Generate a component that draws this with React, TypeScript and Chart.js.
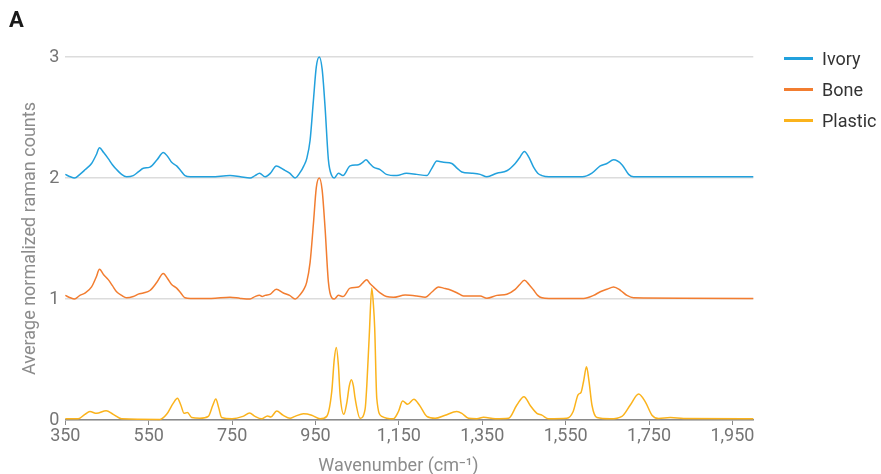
import React, { useEffect, useRef } from 'react';
import { Chart, registerables } from 'chart.js';

Chart.register(...registerables);

const SERIES_NAMES = ['Ivory', 'Bone', 'Plastic'];
const SERIES_COLORS = ['#22a1dd', '#f27d30', '#fbb31c'];
const X_TICKS = [350, 550, 750, 950, 1150, 1350, 1550, 1750, 1950];
const Y_TICKS = [0, 1, 2, 3];
const X_TITLE = 'Wavenumber (cm⁻¹)';
const Y_TITLE = 'Average normalized raman counts';
const PANEL_LABEL = 'A';

const IVORY: [number, number][] = [
  [350, 2.03], [362, 2.01], [372, 2.0], [385, 2.03], [398, 2.07], [413, 2.12], [424, 2.19], [432, 2.25],
  [442, 2.21], [453, 2.16], [463, 2.11], [473, 2.07], [485, 2.03], [497, 2.01], [513, 2.02], [525, 2.05],
  [537, 2.08], [553, 2.09], [570, 2.15], [585, 2.21], [595, 2.18], [605, 2.13], [617, 2.1], [627, 2.06],
  [637, 2.02], [650, 2.01], [700, 2.01], [745, 2.02], [770, 2.01], [793, 2.0], [805, 2.02], [816, 2.04],
  [829, 2.01], [842, 2.04], [856, 2.1], [873, 2.07], [888, 2.04], [901, 2.0], [914, 2.05], [922, 2.1],
  [929, 2.16], [937, 2.31], [945, 2.64], [952, 2.92], [959, 3.0], [966, 2.9], [973, 2.59], [981, 2.15],
  [989, 2.02], [995, 2.0], [1005, 2.04], [1016, 2.02], [1033, 2.1], [1053, 2.11], [1063, 2.13], [1071, 2.15],
  [1080, 2.12], [1089, 2.09], [1105, 2.07], [1120, 2.03], [1145, 2.02], [1168, 2.04], [1193, 2.03], [1217, 2.02],
  [1229, 2.08], [1241, 2.14], [1257, 2.13], [1277, 2.12], [1290, 2.08], [1301, 2.05], [1325, 2.04], [1345, 2.03],
  [1361, 2.01], [1385, 2.04], [1409, 2.06], [1429, 2.12], [1440, 2.17], [1451, 2.22], [1462, 2.17], [1473, 2.09],
  [1483, 2.04], [1493, 2.02], [1510, 2.01], [1590, 2.01], [1613, 2.04], [1633, 2.1], [1649, 2.12], [1665, 2.15],
  [1685, 2.11], [1701, 2.03], [1713, 2.01], [2000, 2.01],
];

const BONE: [number, number][] = [
  [350, 1.03], [362, 1.01], [372, 1.0], [385, 1.03], [398, 1.05], [413, 1.1], [424, 1.18], [432, 1.245],
  [442, 1.2], [453, 1.16], [463, 1.11], [473, 1.06], [485, 1.03], [497, 1.01], [513, 1.02], [525, 1.04],
  [537, 1.05], [553, 1.07], [570, 1.14], [585, 1.21], [595, 1.17], [605, 1.12], [617, 1.09], [627, 1.05],
  [637, 1.01], [650, 1.005], [700, 1.005], [745, 1.015], [770, 1.005], [793, 1.0], [805, 1.02], [816, 1.03],
  [822, 1.02], [829, 1.03], [842, 1.04], [856, 1.08], [873, 1.05], [888, 1.03], [901, 1.0], [914, 1.04],
  [922, 1.08], [929, 1.14], [937, 1.3], [945, 1.62], [952, 1.92], [959, 2.0], [966, 1.9], [973, 1.58],
  [981, 1.14], [989, 1.01], [995, 1.0], [1005, 1.03], [1016, 1.02], [1033, 1.09], [1053, 1.1], [1063, 1.13],
  [1073, 1.16], [1080, 1.13], [1089, 1.1], [1105, 1.05], [1120, 1.02], [1137, 1.014], [1165, 1.033], [1193, 1.025],
  [1213, 1.014], [1230, 1.06], [1245, 1.1], [1257, 1.09], [1269, 1.08], [1290, 1.05], [1305, 1.025], [1345, 1.025],
  [1361, 1.007], [1385, 1.03], [1409, 1.04], [1429, 1.08], [1440, 1.12], [1451, 1.155], [1462, 1.12], [1473, 1.074],
  [1483, 1.03], [1493, 1.01], [1510, 1.005], [1593, 1.005], [1617, 1.03], [1633, 1.06], [1649, 1.08], [1665, 1.1],
  [1682, 1.07], [1697, 1.03], [1713, 1.01], [2000, 1.005],
];

const PLASTIC: [number, number][] = [
  [350, 0.01], [381, 0.01], [397, 0.047], [409, 0.07], [425, 0.055], [448, 0.077], [465, 0.047], [485, 0.01],
  [577, 0.005], [593, 0.047], [609, 0.14], [619, 0.18], [627, 0.124], [635, 0.055], [643, 0.063], [653, 0.02],
  [673, 0.014], [693, 0.03], [704, 0.124], [711, 0.174], [718, 0.1], [725, 0.02], [750, 0.01], [776, 0.03],
  [792, 0.058], [805, 0.03], [821, 0.01], [835, 0.033], [843, 0.025], [857, 0.074], [872, 0.04], [889, 0.014],
  [901, 0.03], [921, 0.052], [941, 0.04], [961, 0.01], [977, 0.03], [989, 0.234], [995, 0.5], [1000, 0.6],
  [1005, 0.45], [1009, 0.21], [1018, 0.047], [1025, 0.14], [1031, 0.28], [1036, 0.333], [1041, 0.28], [1045, 0.18],
  [1057, 0.014], [1069, 0.09], [1073, 0.28], [1079, 0.7], [1085, 1.09], [1089, 0.95], [1092, 0.76], [1097, 0.18],
  [1109, 0.03], [1137, 0.01], [1149, 0.07], [1159, 0.157], [1171, 0.13], [1186, 0.171], [1199, 0.124], [1217, 0.03],
  [1237, 0.014], [1261, 0.04], [1289, 0.07], [1301, 0.055], [1317, 0.014], [1337, 0.01], [1353, 0.022], [1381, 0.01],
  [1413, 0.014], [1433, 0.124], [1450, 0.193], [1465, 0.12], [1481, 0.055], [1493, 0.04], [1509, 0.01], [1553, 0.014],
  [1568, 0.07], [1580, 0.21], [1587, 0.229], [1593, 0.32], [1600, 0.44], [1606, 0.32], [1613, 0.124], [1625, 0.02],
  [1657, 0.01], [1685, 0.03], [1705, 0.124], [1725, 0.215], [1741, 0.15], [1757, 0.04], [1773, 0.012], [1801, 0.02],
  [1833, 0.012], [2000, 0.01],
];

const SERIES = [IVORY, BONE, PLASTIC];

const FONT = 'Roboto';
const TICK_COLOR = '#757575';
const TITLE_COLOR = '#8c8c8c';

export default function App() {
  const ref = useRef<HTMLCanvasElement>(null);

  useEffect(() => {
    if (!ref.current) return;
    Chart.defaults.font.family = FONT;
    const chart = new Chart(ref.current, {
      type: 'line',
      data: {
        datasets: SERIES.map((s, i) => ({
          label: SERIES_NAMES[i],
          data: s.map(([x, y]) => ({ x, y })),
          borderColor: SERIES_COLORS[i],
          backgroundColor: SERIES_COLORS[i],
          borderWidth: 1.5,
          pointRadius: 0,
          pointHoverRadius: 0,
          fill: false,
          cubicInterpolationMode: 'monotone' as const,
          clip: false as any,
        })),
      },
      options: {
        animation: false,
        responsive: false,
        events: [],
        layout: { padding: { left: 9, right: 127.7, top: 0, bottom: 0 } },
        plugins: {
          legend: { display: false },
          tooltip: { enabled: false },
          title: {
            display: true,
            text: PANEL_LABEL,
            align: 'start',
            color: '#1a1a1a',
            font: { family: FONT, size: 22, weight: 'bold', lineHeight: 1 },
            padding: { top: 10.2, bottom: 24.8 },
          },
        },
        scales: {
          x: {
            type: 'linear',
            min: 350,
            max: 2000,
            afterBuildTicks: (s: any) => {
              s.ticks = X_TICKS.map((v) => ({ value: v }));
            },
            afterFit: (s: any) => {
              s.height = 54;
            },
            ticks: {
              autoSkip: false,
              maxRotation: 0,
              padding: 1,
              color: TICK_COLOR,
              font: { family: FONT, size: 18 },
              callback: (v: any) => Number(v).toLocaleString('en-US'),
            },
            grid: {
              drawOnChartArea: false,
              drawTicks: true,
              tickLength: 5,
              color: '#8a8a8a',
              lineWidth: 1,
            },
            border: { display: true, color: '#8a8a8a', width: 1.5 },
          },
          y: {
            min: 0,
            max: 3,
            afterBuildTicks: (s: any) => {
              s.ticks = Y_TICKS.map((v) => ({ value: v }));
            },
            afterFit: (s: any) => {
              s.width = 56.3;
            },
            ticks: {
              padding: 6,
              color: TICK_COLOR,
              font: { family: FONT, size: 18 },
            },
            grid: { color: '#dcdcdc', lineWidth: 1.5, drawTicks: false },
            border: { display: false },
            title: {
              display: true,
              text: Y_TITLE,
              color: TITLE_COLOR,
              font: { family: FONT, size: 18 },
              padding: { top: 10.2, bottom: 0 },
            },
          },
        },
      } as any,
    });
    return () => chart.destroy();
  }, []);

  const legendTops = [58.7, 89.3, 120];

  return (
    <div style={{ position: 'fixed', left: 0, top: 0, width: 881, height: 474, background: '#fff' }}>
      <canvas ref={ref} width={881} height={474} style={{ display: 'block', width: 881, height: 474 }} />
      {SERIES_NAMES.map((name, i) => (
        <div
          key={name}
          style={{
            position: 'absolute',
            left: 784,
            top: legendTops[i] - 10.5,
            height: 21,
            display: 'flex',
            alignItems: 'center',
            fontFamily: FONT,
            fontSize: 18,
            lineHeight: '21px',
            color: '#333333',
            whiteSpace: 'nowrap',
          }}
        >
          <span style={{ display: 'inline-block', width: 29, height: 3, background: SERIES_COLORS[i], marginRight: 9 }} />
          <span>{name}</span>
        </div>
      ))}
      <div
        style={{
          position: 'absolute',
          left: 398.5,
          top: 455.3,
          transform: 'translateX(-50%)',
          fontFamily: FONT,
          fontSize: 18,
          lineHeight: '20px',
          color: TITLE_COLOR,
          whiteSpace: 'nowrap',
        }}
      >
        {X_TITLE}
      </div>
    </div>
  );
}
